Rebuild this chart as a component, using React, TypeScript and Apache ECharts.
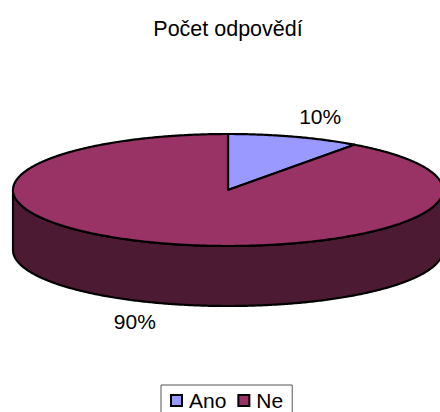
import React, { useEffect, useRef } from "react";
import * as echarts from "echarts";

const TITLE = "Počet odpovědí";
const categories = ["Ano", "Ne"];
const shares = [10, 90];
const topColors = ["#9999FF", "#993366"];
const wallColors = ["#4D4D80", "#4D1A33"];

const CX = 228;
const CY = 190;
const RX = 215;
const RY = 56;
const DEPTH = 60;
const LABEL_RX = 300;
const LABEL_RY = 77;

const total = shares.reduce((a, b) => a + b, 0);
const pt = (deg: number, dy = 0): number[] => {
  const r = (deg * Math.PI) / 180;
  return [CX + RX * Math.sin(r), CY - RY * Math.cos(r) + dy];
};
const arc = (from: number, to: number, dy = 0): number[][] => {
  const n = Math.max(2, Math.ceil(Math.abs(to - from) * 2));
  const out: number[][] = [];
  for (let i = 0; i <= n; i++) out.push(pt(from + ((to - from) * i) / n, dy));
  return out;
};

const stroke = { stroke: "#000", lineWidth: 2.2, lineJoin: "round" };

function makeRender(index: number) {
  return (_params: any, api: any) => {
    const value = api.value(0) as number;
    const before = shares.slice(0, index).reduce((a, b) => a + b, 0);
    const start = (before / total) * 360;
    const end = start + (value / total) * 360;
    const children: any[] = [];

    // Front wall: only the part of the slice lying in the 90°-270° range is visible
    const wFrom = Math.max(start, 90);
    const wTo = Math.min(end, 270);
    if (wTo > wFrom) {
      children.push({
        type: "polygon",
        shape: { points: [...arc(wFrom, wTo), ...arc(wTo, wFrom, DEPTH)] },
        style: { fill: wallColors[index], ...stroke },
      });
    }
    // Top face
    children.push({
      type: "polygon",
      shape: { points: [[CX, CY], ...arc(start, end)] },
      style: { fill: topColors[index], ...stroke },
    });
    // Percentage label
    const mid = (((start + end) / 2) * Math.PI) / 180;
    const cos = Math.cos(mid);
    children.push({
      type: "text",
      x: CX + LABEL_RX * Math.sin(mid) - 0.5,
      y: CY - LABEL_RY * cos + (cos < 0 ? DEPTH - 2 : 0),
      style: {
        text: `${Math.round((value / total) * 100)}%`,
        fill: "#000",
        font: '21px "Liberation Sans"',
        align: "center",
        verticalAlign: "middle",
      },
    });
    return { type: "group", children };
  };
}

export default function App() {
  const ref = useRef<HTMLDivElement>(null);
  useEffect(() => {
    document.body.style.margin = "0";
    const chart = echarts.init(ref.current!, null, { renderer: "svg" });
    chart.setOption({
      animation: false,
      backgroundColor: "#fff",
      title: {
        text: TITLE,
        left: 223,
        top: 13,
        textAlign: "center",
        textStyle: { fontFamily: "Liberation Sans", fontSize: 21.5, fontWeight: "normal", color: "#000" },
      },
      legend: {
        data: categories,
        left: 161,
        top: 385,
        padding: [5, 9, 10, 9],
        backgroundColor: "#fff",
        borderColor: "#555",
        borderWidth: 1,
        borderRadius: 0,
        itemWidth: 11,
        itemHeight: 11,
        itemGap: 11,
        icon: "rect",
        itemStyle: { borderColor: "#000", borderWidth: 2 },
        textStyle: { fontFamily: "Liberation Sans", fontSize: 21, lineHeight: 20, color: "#000", padding: [0, 0, 0, 2] },
        selectedMode: false,
      },
      series: categories.map((name, i) => ({
        type: "custom",
        name,
        coordinateSystem: "none",
        silent: true,
        itemStyle: { color: topColors[i] },
        data: [[shares[i]]],
        renderItem: makeRender(i),
      })),
    });
    return () => chart.dispose();
  }, []);
  return <div ref={ref} style={{ width: 440, height: 412 }} />;
}
